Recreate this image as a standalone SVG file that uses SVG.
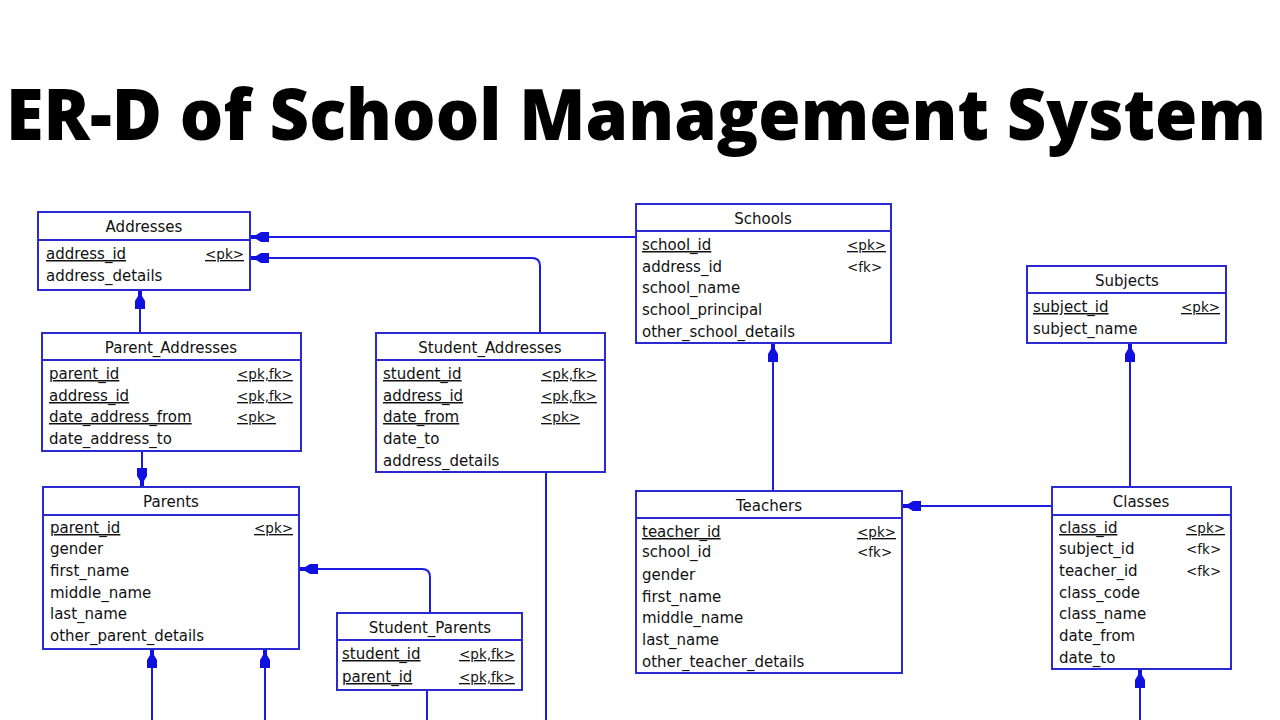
<svg xmlns="http://www.w3.org/2000/svg" width="1280" height="720" viewBox="0 0 1280 720">
<style>
.box{fill:#fff;stroke:#2a2ad0;stroke-width:2}
.sep{stroke:#2a2ad0;stroke-width:2}
.t{font-family:"DejaVu Sans",sans-serif;font-size:15px;fill:#111}
.h{text-anchor:middle}
.u{text-decoration:underline}
.k{font-size:13.5px}
.c{fill:none;stroke:#1c1ce0;stroke-width:2}
.title{font-family:"Open Sans",sans-serif;font-weight:800;font-size:70px;fill:#000}
</style>
<defs>
<marker id="ar" markerUnits="userSpaceOnUse" viewBox="0 -6 22 12" refX="22" refY="0" markerWidth="22" markerHeight="12" orient="auto">
<path d="M22,-2 L16,-2 L11,-5 L3,-5 L3,5 L11,5 L16,2 L22,2 Z" fill="#1010e0"/>
</marker>
</defs>
<rect width="1280" height="720" fill="#fff"/>
<text class="title" x="6" y="140" textLength="1260" lengthAdjust="spacingAndGlyphs">ER-D of School Management System</text>

<g id="connectors">
<path class="c" d="M636,237 H250" marker-end="url(#ar)"/>
<path class="c" d="M540,333 V266 Q540,258 532,258 H250" marker-end="url(#ar)"/>
<path class="c" d="M140,333 V290" marker-end="url(#ar)"/>
<path class="c" d="M142,451 V487" marker-end="url(#ar)"/>
<path class="c" d="M430,613 V577 Q430,569 422,569 H299" marker-end="url(#ar)"/>
<path class="c" d="M152,720 V649" marker-end="url(#ar)"/>
<path class="c" d="M265,720 V649" marker-end="url(#ar)"/>
<path class="c" d="M427,690 V720"/>
<path class="c" d="M546,472 V720"/>
<path class="c" d="M773,491 V343" marker-end="url(#ar)"/>
<path class="c" d="M1052,506 H902" marker-end="url(#ar)"/>
<path class="c" d="M1130,487 V343" marker-end="url(#ar)"/>
<path class="c" d="M1140,720 V669" marker-end="url(#ar)"/>
</g>

<g id="Addresses">
<rect class="box" x="38" y="212" width="212" height="78"/>
<line class="sep" x1="38" y1="240" x2="250" y2="240"/>
<text class="t h" x="144" y="232">Addresses</text>
<text class="t u" x="46" y="259">address_id</text>
<text class="t k u" x="205" y="259">&lt;pk&gt;</text>
<text class="t" x="46" y="281">address_details</text>
</g>

<g id="Parent_Addresses">
<rect class="box" x="42" y="333" width="259" height="118"/>
<line class="sep" x1="42" y1="360" x2="301" y2="360"/>
<text class="t h" x="171" y="353">Parent_Addresses</text>
<text class="t u" x="49" y="379">parent_id</text>
<text class="t k u" x="237" y="379">&lt;pk,fk&gt;</text>
<text class="t u" x="49" y="401">address_id</text>
<text class="t k u" x="237" y="401">&lt;pk,fk&gt;</text>
<text class="t u" x="49" y="422">date_address_from</text>
<text class="t k u" x="237" y="422">&lt;pk&gt;</text>
<text class="t" x="49" y="444">date_address_to</text>
</g>

<g id="Student_Addresses">
<rect class="box" x="376" y="333" width="229" height="139"/>
<line class="sep" x1="376" y1="360" x2="605" y2="360"/>
<text class="t h" x="490" y="353">Student_Addresses</text>
<text class="t u" x="383" y="379">student_id</text>
<text class="t k u" x="541" y="379">&lt;pk,fk&gt;</text>
<text class="t u" x="383" y="401">address_id</text>
<text class="t k u" x="541" y="401">&lt;pk,fk&gt;</text>
<text class="t u" x="383" y="422">date_from</text>
<text class="t k u" x="541" y="422">&lt;pk&gt;</text>
<text class="t" x="383" y="444">date_to</text>
<text class="t" x="383" y="466">address_details</text>
</g>

<g id="Schools">
<rect class="box" x="636" y="204" width="255" height="139"/>
<line class="sep" x1="636" y1="231" x2="891" y2="231"/>
<text class="t h" x="763" y="224">Schools</text>
<text class="t u" x="642" y="250">school_id</text>
<text class="t k u" x="847" y="250">&lt;pk&gt;</text>
<text class="t" x="642" y="272">address_id</text>
<text class="t k" x="847" y="272">&lt;fk&gt;</text>
<text class="t" x="642" y="293">school_name</text>
<text class="t" x="642" y="315">school_principal</text>
<text class="t" x="642" y="337">other_school_details</text>
</g>

<g id="Subjects">
<rect class="box" x="1027" y="266" width="199" height="77"/>
<line class="sep" x1="1027" y1="293" x2="1226" y2="293"/>
<text class="t h" x="1127" y="286">Subjects</text>
<text class="t u" x="1033" y="312">subject_id</text>
<text class="t k u" x="1181" y="312">&lt;pk&gt;</text>
<text class="t" x="1033" y="334">subject_name</text>
</g>

<g id="Parents">
<rect class="box" x="43" y="487" width="256" height="162"/>
<line class="sep" x1="43" y1="515" x2="299" y2="515"/>
<text class="t h" x="171" y="507">Parents</text>
<text class="t u" x="50" y="533">parent_id</text>
<text class="t k u" x="254" y="533">&lt;pk&gt;</text>
<text class="t" x="50" y="554">gender</text>
<text class="t" x="50" y="576">first_name</text>
<text class="t" x="50" y="598">middle_name</text>
<text class="t" x="50" y="619">last_name</text>
<text class="t" x="50" y="641">other_parent_details</text>
</g>

<g id="Student_Parents">
<rect class="box" x="337" y="613" width="185" height="77"/>
<line class="sep" x1="337" y1="640" x2="522" y2="640"/>
<text class="t h" x="430" y="633">Student_Parents</text>
<text class="t u" x="342" y="659">student_id</text>
<text class="t k u" x="459" y="659">&lt;pk,fk&gt;</text>
<text class="t u" x="342" y="682">parent_id</text>
<text class="t k u" x="459" y="682">&lt;pk,fk&gt;</text>
</g>

<g id="Teachers">
<rect class="box" x="636" y="491" width="266" height="182"/>
<line class="sep" x1="636" y1="518" x2="902" y2="518"/>
<text class="t h" x="769" y="511">Teachers</text>
<text class="t u" x="642" y="537">teacher_id</text>
<text class="t k u" x="857" y="537">&lt;pk&gt;</text>
<text class="t" x="642" y="557">school_id</text>
<text class="t k" x="857" y="557">&lt;fk&gt;</text>
<text class="t" x="642" y="580">gender</text>
<text class="t" x="642" y="602">first_name</text>
<text class="t" x="642" y="623">middle_name</text>
<text class="t" x="642" y="645">last_name</text>
<text class="t" x="642" y="667">other_teacher_details</text>
</g>

<g id="Classes">
<rect class="box" x="1052" y="487" width="179" height="182"/>
<line class="sep" x1="1052" y1="515" x2="1231" y2="515"/>
<text class="t h" x="1141" y="507">Classes</text>
<text class="t u" x="1059" y="533">class_id</text>
<text class="t k u" x="1186" y="533">&lt;pk&gt;</text>
<text class="t" x="1059" y="554">subject_id</text>
<text class="t k" x="1186" y="554">&lt;fk&gt;</text>
<text class="t" x="1059" y="576">teacher_id</text>
<text class="t k" x="1186" y="576">&lt;fk&gt;</text>
<text class="t" x="1059" y="598">class_code</text>
<text class="t" x="1059" y="619">class_name</text>
<text class="t" x="1059" y="641">date_from</text>
<text class="t" x="1059" y="663">date_to</text>
</g>
</svg>
